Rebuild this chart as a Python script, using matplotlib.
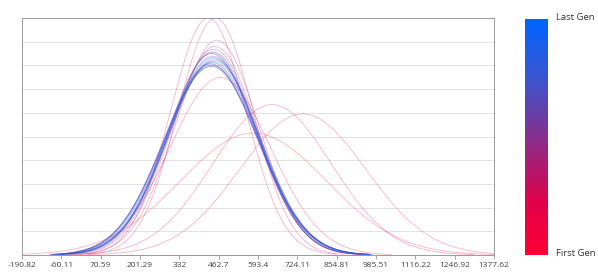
import numpy as np
import matplotlib
matplotlib.use('Agg')
import matplotlib.pyplot as plt
from matplotlib.colors import LinearSegmentedColormap

# distribution per generation (first -> last)
gen_mean = [578, 742, 640, 468, 428, 452, 457, 450, 440, 446, 436, 448,
            438, 444, 441, 447, 443, 445, 439, 444]
gen_sd = [243, 210, 197, 167, 125, 125, 138, 142, 147, 144, 155, 152,
          157, 149, 154, 151, 146, 153, 156, 150]

xmin, xmax = -190.82, 1377.62
tick_labels = ['-190.82', '-60.11', '70.59', '201.29', '332', '462.7', '593.4',
               '724.11', '854.81', '985.51', '1116.22', '1246.92', '1377.62']

cmap = LinearSegmentedColormap.from_list(
    'gen', [(0.0, '#ff0033'), (0.22, '#e2004a'), (0.5, '#86308e'),
            (0.75, '#3c55d2'), (1.0, '#0064ff')])

plt.rcParams['font.family'] = ['Open Sans', 'DejaVu Sans']

fig = plt.figure(figsize=(5.98, 2.76), dpi=100)
ax = fig.add_axes([22/598, 1-255/276, 472/598, 237/276])

n = len(gen_mean)
ymax = 0
for i in range(n):
    m, s = gen_mean[i], gen_sd[i]
    x = np.linspace(max(xmin, m-3.4*s), min(xmax, m+3.4*s), 400)
    y = np.exp(-0.5*((x-m)/s)**2) / (s*np.sqrt(2*np.pi))
    ymax = max(ymax, y.max())
    frac = i/(n-1.0)
    a = 0.3 if frac < 0.4 else (0.35 if i % 2 else 0.5)
    ax.plot(x, y, color=cmap(frac), lw=0.6, alpha=a)

ax.set_xlim(xmin, xmax)
ax.set_ylim(0, ymax)
ax.set_xticks(np.linspace(xmin, xmax, len(tick_labels)))
ax.set_xticklabels(tick_labels)
ax.set_yticks(np.linspace(0, ymax, 11))
ax.set_yticklabels([])
ax.tick_params(axis='y', length=0)
ax.tick_params(axis='x', length=3, width=0.6, color='#999999', labelsize=6,
               labelcolor='#444444', pad=2)
ax.grid(axis='y', color='#e3e3e3', lw=0.7)
ax.set_axisbelow(True)
for sp in ax.spines.values():
    sp.set_color('#999999')
    sp.set_linewidth(0.7)

# colour bar
cax = fig.add_axes([525/598, 1-255/276, 23/598, 236/276])
grad = np.linspace(0, 1, 256).reshape(-1, 1)
cax.imshow(grad, aspect='auto', cmap=cmap, origin='lower')
cax.set_axis_off()
fig.text(556/598, 1-17/276, 'Last Gen', fontsize=6.8, color='#333333', va='center')
fig.text(556/598, 1-254/276, 'First Gen', fontsize=6.8, color='#333333', va='center')

fig.savefig('out.png', dpi=100)
